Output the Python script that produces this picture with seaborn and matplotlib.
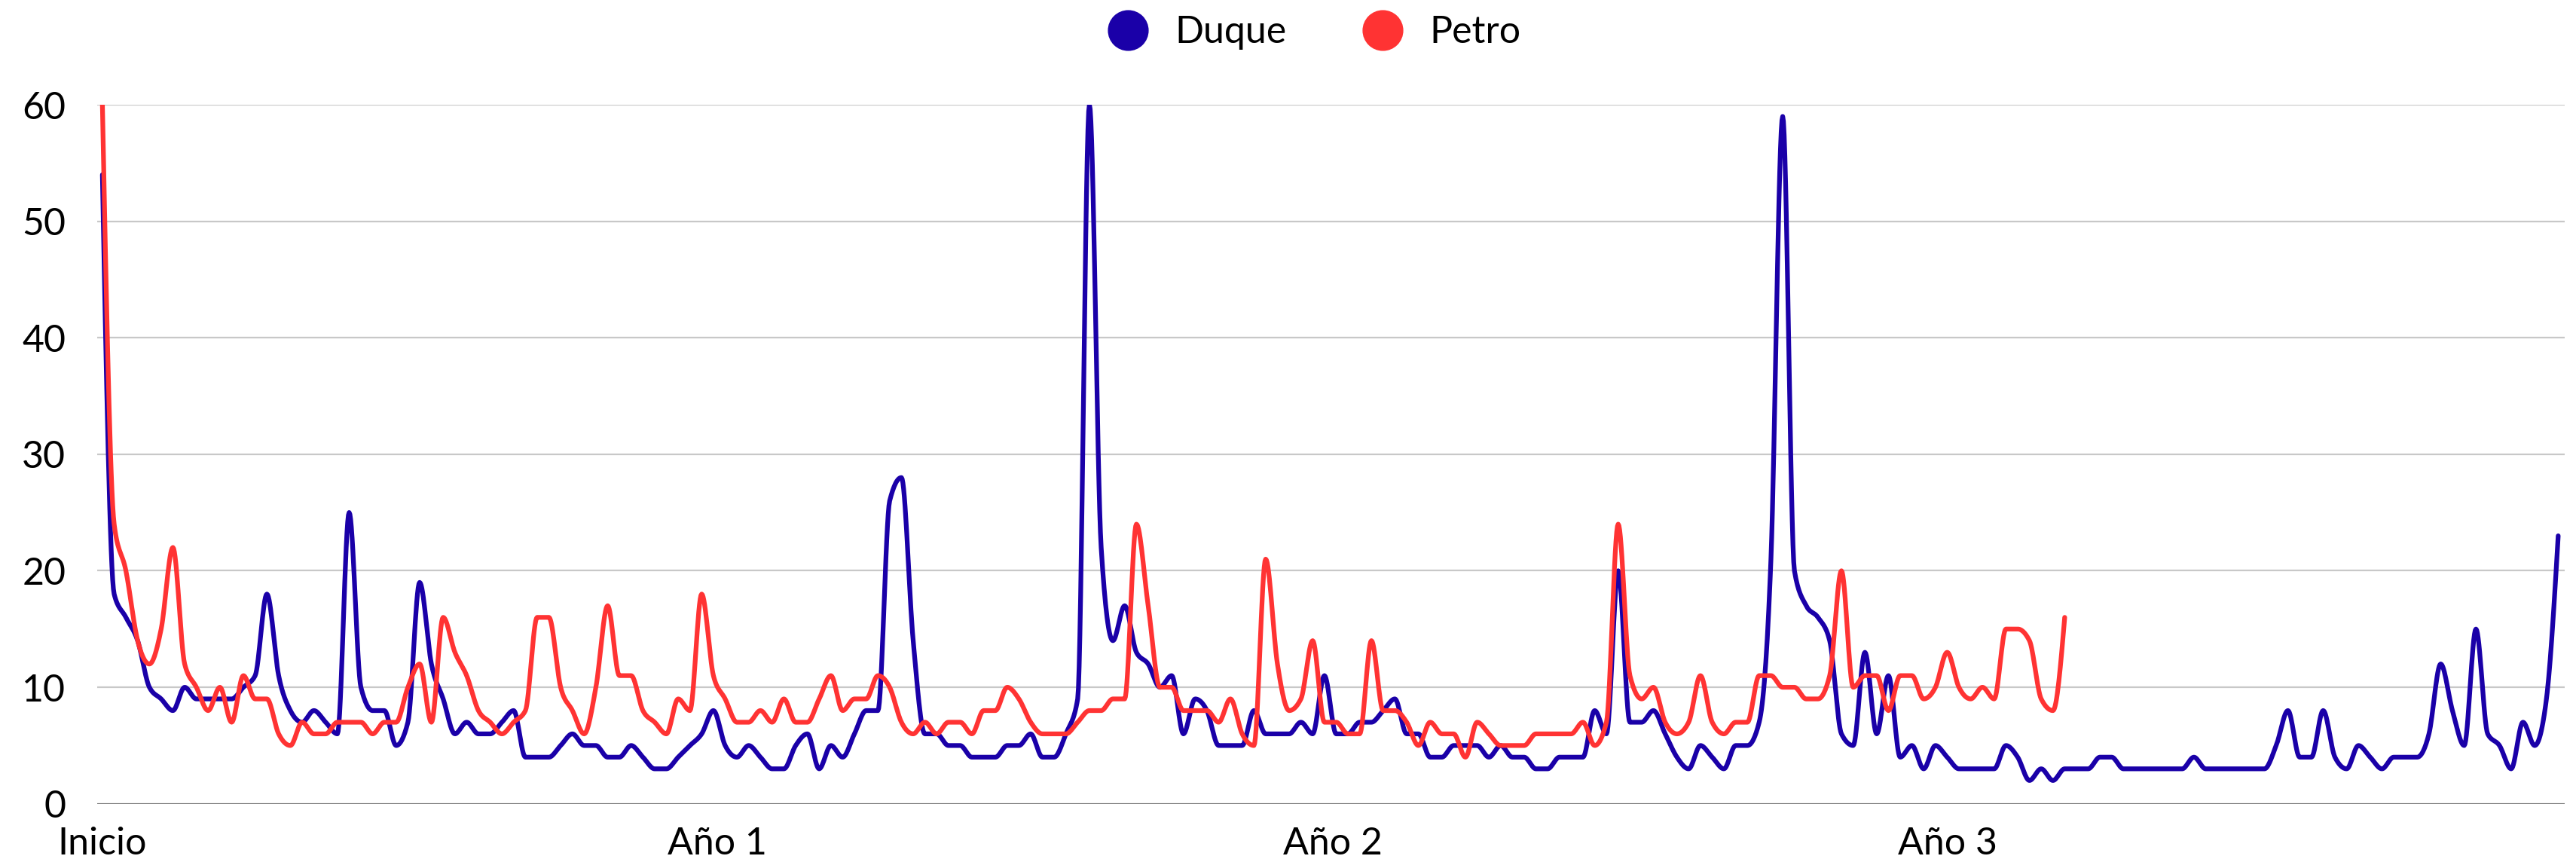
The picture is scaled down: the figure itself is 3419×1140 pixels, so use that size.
import numpy as np
import pandas as pd
import seaborn as sns
import matplotlib.pyplot as plt
from matplotlib.lines import Line2D

# weekly counts (week 0 = "Inicio")
duque = [54, 18, 16, 14, 10, 9, 8, 10, 9, 9, 9, 9, 10, 11, 18, 11, 8, 7, 8, 7,
         6, 25, 10, 8, 8, 5, 7, 19, 12, 9, 6, 7, 6, 6, 7, 8, 4, 4, 4, 5,
         6, 5, 5, 4, 4, 5, 4, 3, 3, 4, 5, 6, 8, 5, 4, 5, 4, 3, 3, 5,
         6, 3, 5, 4, 6, 8, 8, 26, 28, 14, 6, 6, 5, 5, 4, 4, 4, 5, 5, 6,
         4, 4, 6, 9, 60, 22, 14, 17, 13, 12, 10, 11, 6, 9, 8, 5, 5, 5, 8, 6,
         6, 6, 7, 6, 11, 6, 6, 7, 7, 8, 9, 6, 6, 4, 4, 5, 5, 5, 4, 5,
         4, 4, 3, 3, 4, 4, 4, 8, 6, 20, 7, 7, 8, 6, 4, 3, 5, 4, 3, 5,
         5, 7, 21, 59, 20, 17, 16, 14, 6, 5, 13, 6, 11, 4, 5, 3, 5, 4, 3, 3,
         3, 3, 5, 4, 2, 3, 2, 3, 3, 3, 4, 4, 3, 3, 3, 3, 3, 3, 4, 3,
         3, 3, 3, 3, 3, 5, 8, 4, 4, 8, 4, 3, 5, 4, 3, 4, 4, 4, 6, 12,
         8, 5, 15, 6, 5, 3, 7, 5, 9, 23]
petro = [60, 24, 20, 14, 12, 15, 22, 12, 10, 8, 10, 7, 11, 9, 9, 6, 5, 7, 6, 6,
         7, 7, 7, 6, 7, 7, 10, 12, 7, 16, 13, 11, 8, 7, 6, 7, 8, 16, 16, 10,
         8, 6, 10, 17, 11, 11, 8, 7, 6, 9, 8, 18, 11, 9, 7, 7, 8, 7, 9, 7,
         7, 9, 11, 8, 9, 9, 11, 10, 7, 6, 7, 6, 7, 7, 6, 8, 8, 10, 9, 7,
         6, 6, 6, 7, 8, 8, 9, 9, 24, 17, 10, 10, 8, 8, 8, 7, 9, 6, 5, 21,
         12, 8, 9, 14, 7, 7, 6, 6, 14, 8, 8, 7, 5, 7, 6, 6, 4, 7, 6, 5,
         5, 5, 6, 6, 6, 6, 7, 5, 7, 24, 11, 9, 10, 7, 6, 7, 11, 7, 6, 7,
         7, 11, 11, 10, 10, 9, 9, 11, 20, 10, 11, 11, 8, 11, 11, 9, 10, 13, 10, 9,
         10, 9, 15, 15, 14, 9, 8, 16]

names = ['Duque', 'Petro']
colors = ['#1a00a8', '#ff3333']
tick_labels = ['Inicio', 'Año 1', 'Año 2', 'Año 3']
tick_weeks = [0, 52.35, 104.7, 157.05]


def monotone_curve(values, steps=16):
    # monotone cubic (Steffen) through the weekly points, like a "curved" web chart line
    y = np.asarray(values, dtype=float)
    n = len(y)
    d = np.diff(y)
    t = np.zeros(n)
    for k in range(1, n - 1):
        s0, s1 = d[k - 1], d[k]
        p = (s0 + s1) / 2
        sg = (1 if s0 >= 0 else -1) + (1 if s1 >= 0 else -1)
        t[k] = sg * min(abs(s0), abs(s1), 0.5 * abs(p))
    t[0] = (3 * d[0] - t[1]) / 2
    t[-1] = (3 * d[-1] - t[-2]) / 2
    xs, ys = [], []
    u = np.linspace(0, 1, steps, endpoint=False)
    h00 = 2 * u**3 - 3 * u**2 + 1
    h10 = u**3 - 2 * u**2 + u
    h01 = -2 * u**3 + 3 * u**2
    h11 = u**3 - u**2
    for k in range(n - 1):
        xs.append(k + u)
        ys.append(h00 * y[k] + h10 * t[k] + h01 * y[k + 1] + h11 * t[k + 1])
    xs.append([n - 1])
    ys.append([y[-1]])
    return np.concatenate(xs), np.concatenate(ys)


sns.set_theme(style='white')
plt.rcParams['font.family'] = ['Lato', 'DejaVu Sans']

fig = plt.figure(figsize=(34.19, 11.40), dpi=100)
ax = fig.add_axes([0.0377, 0.0643, 0.9579, 0.8137])

for name, vals, c in zip(names, [duque, petro], colors):
    xs, ys = monotone_curve(vals)
    df = pd.DataFrame({'semana': xs, 'valor': ys})
    sns.lineplot(data=df, x='semana', y='valor', ax=ax, color=c, lw=4.5,
                 estimator=None, sort=False, solid_capstyle='round',
                 solid_joinstyle='round', zorder=3)

ax.set_xlim(-0.45, 209.55)
ax.set_ylim(0, 60)
ax.set_yticks(range(0, 61, 10))
ax.set_xticks(tick_weeks)
ax.set_xticklabels(tick_labels)
ax.set_xlabel('')
ax.set_ylabel('')
ax.grid(axis='y', color='#c8c8c8', lw=1.6)
ax.grid(axis='x', visible=False)
ax.set_axisbelow(True)
for s in ax.spines.values():
    s.set_visible(False)
ax.axhline(0, color='#7a7a7a', lw=2.2, zorder=2)
ax.tick_params(axis='y', length=0, labelsize=36, pad=30, colors='black')
ax.tick_params(axis='x', length=0, labelsize=36, pad=22, colors='black')

handles = [Line2D([], [], ls='', marker='o', markersize=38, color=c) for c in colors]
leg = fig.legend(handles, names, loc='center', bbox_to_anchor=(0.510, 0.962),
                 ncol=2, frameon=False, fontsize=36, handlelength=1.1,
                 handletextpad=0.7, columnspacing=2.0)
for txt in leg.get_texts():
    txt.set_color('black')

fig.savefig('out.png', dpi=100)
